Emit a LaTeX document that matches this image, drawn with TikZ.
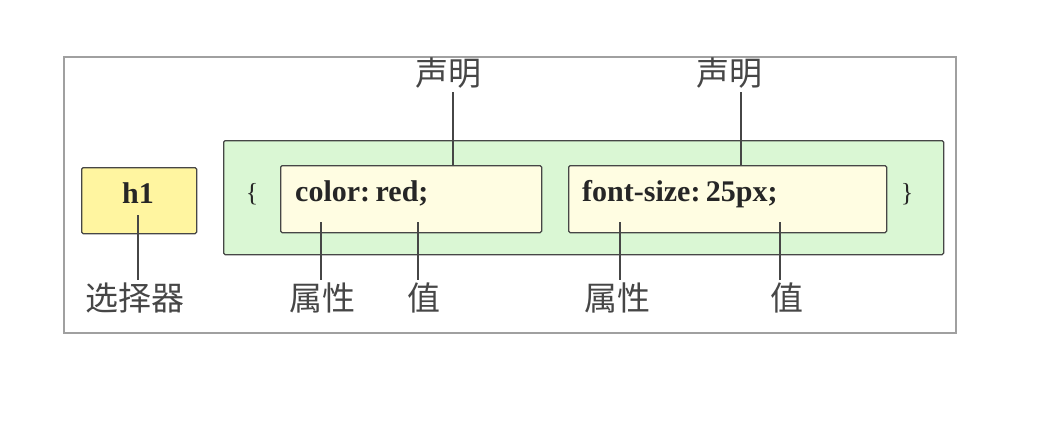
\documentclass[tikz,border=0pt]{standalone}
\usepackage{fontspec}
\setmainfont{Liberation Serif}
\newfontfamily\cjk{Noto Sans CJK SC}
\definecolor{framegray}{RGB}{160,160,160}
\definecolor{linegray}{RGB}{70,70,70}
\definecolor{selyellow}{RGB}{255,245,160}
\definecolor{declgreen}{RGB}{218,247,212}
\definecolor{declyellow}{RGB}{255,253,226}
\begin{document}
\begin{tikzpicture}[x=1pt, y=-1pt,
    box/.style={draw=linegray, line width=1.3pt, rounded corners=1.5pt, inner sep=0pt, anchor=north west},
    label/.style={font=\cjk\fontsize{33}{33}\selectfont, text=linegray, inner sep=0pt},
    code/.style={font=\bfseries\fontsize{30}{30}\selectfont, text=black!85, inner sep=0pt, anchor=base west},
    lead/.style={draw=linegray, line width=1.3pt}]
    \useasboundingbox (0,0) rectangle (1044,426);
    % Frame
    \draw[framegray, line width=2pt] (64,57) rectangle (956,333);

    % Selector
    \node[box, fill=selyellow, minimum width=115pt, minimum height=66pt] (sel) at (81,167) {};
    \node[code, anchor=base] (seltext) at (138,203) {h1};
    \node[label] (sellabel) at (135,298) {选择器};

    % Declaration block
    \node[box, fill=declgreen, minimum width=720pt, minimum height=114pt] (block) at (223,140) {};
    \node[code, anchor=base, font=\fontsize{26}{26}\selectfont] (lbrace) at (252,201) {\{};
    \node[code, anchor=base, font=\fontsize{26}{26}\selectfont] (rbrace) at (907,201) {\}};
    \node[box, fill=declyellow, minimum width=261pt, minimum height=67pt] (decl1) at (280,165) {};
    \node[box, fill=declyellow, minimum width=318pt, minimum height=67pt] (decl2) at (568,165) {};
    \node[code] (decl1text) at (295,201) {color:\kern-2pt\ red;};
    \node[code] (decl2text) at (582,201) {font-size:\kern-2pt\ 25px;};

    % Labels
    \node[label] (declA) at (448,73) {声明};
    \node[label] (declB) at (729,73) {声明};
    \node[label] (propA) at (322,298) {属性};
    \node[label] (valA) at (424,298) {值};
    \node[label] (propB) at (617,298) {属性};
    \node[label] (valB) at (787,298) {值};

    % Leader lines
    \coordinate (s1) at (138,215);
    \draw[lead] (s1) -- ([yshift=3pt]s1 |- sellabel.north);
    \coordinate (d1) at (453,92);
    \coordinate (d2) at (741,92);
    \draw[lead] (d1) -- (d1 |- decl1.north);
    \draw[lead] (d2) -- (d2 |- decl2.north);
    \coordinate (p1) at (321,222);
    \coordinate (v1) at (418,222);
    \coordinate (p2) at (620,222);
    \coordinate (v2) at (780,222);
    \draw[lead] (p1) -- ([yshift=3pt]p1 |- propA.north);
    \draw[lead] (v1) -- ([yshift=3pt]v1 |- valA.north);
    \draw[lead] (p2) -- ([yshift=3pt]p2 |- propB.north);
    \draw[lead] (v2) -- ([yshift=3pt]v2 |- valB.north);
\end{tikzpicture}
\end{document}
